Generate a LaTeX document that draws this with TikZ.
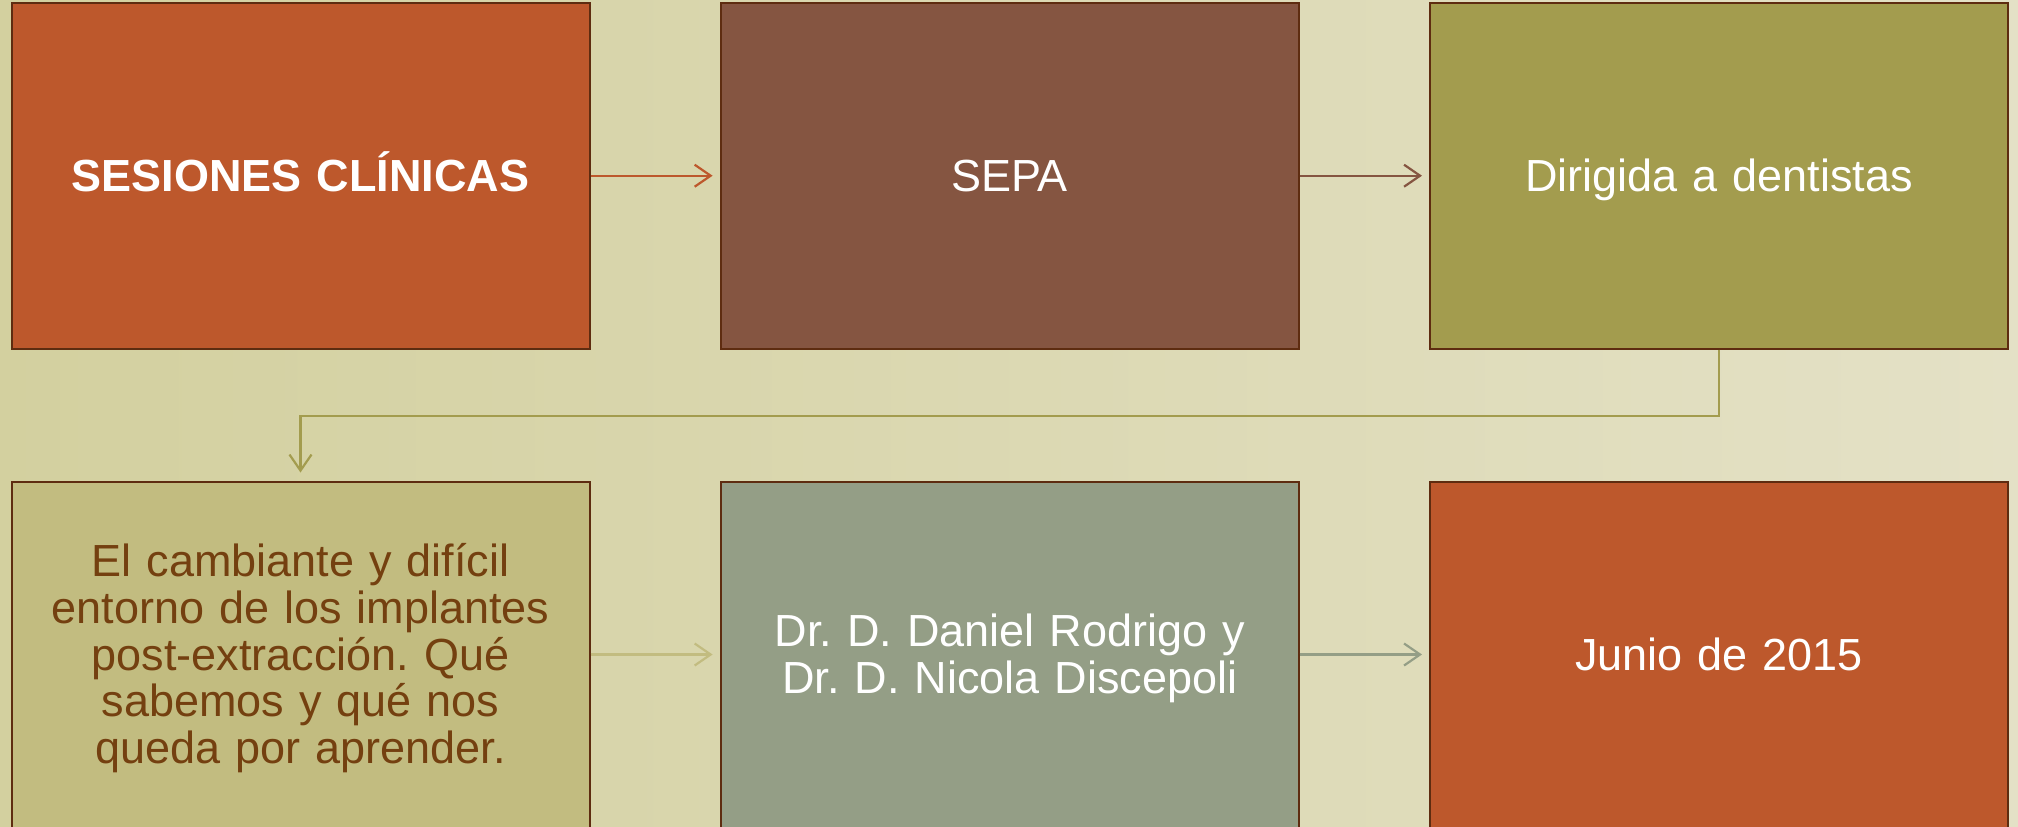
\documentclass[tikz,border=0pt]{standalone}
\usepackage{fontspec}
\setmainfont{Liberation Sans}
\usetikzlibrary{arrows.meta}
\definecolor{bgL}{HTML}{D3D09F}
\definecolor{bgR}{HTML}{E4E1C6}
\definecolor{cOrange}{HTML}{BD582C}
\definecolor{cBrown}{HTML}{855541}
\definecolor{cOlive}{HTML}{A39C4E}
\definecolor{cKhaki}{HTML}{C2BC80}
\definecolor{cSage}{HTML}{949E86}
\definecolor{cEdge}{HTML}{5E2C10}
\definecolor{cText}{HTML}{744010}
\newcommand\tstrut{\rule{0pt}{0.905em}}
\newcommand\bstrut{\rule[-0.212em]{0pt}{0.212em}}
\tikzset{
  box/.style={draw=cEdge, line width=1pt, minimum width=289pt, minimum height=173pt,
    inner sep=0pt, text width=260pt, align=center, text=white,
    font=\fontsize{22.5}{23.3}\selectfont\frenchspacing},
  arr/.style={line width=1.1pt, -{Straight Barb[length=8pt,width=11pt,line width=1.1pt]}, shorten >=3.5pt}
}
\begin{document}
\begin{tikzpicture}[x=0.5pt,y=-0.5pt]
\useasboundingbox (0,0) rectangle (2018,826);
\clip (0,0) rectangle (2018,826);
\shade[left color=bgL, right color=bgR] (0,0) rectangle (2018,826);
\node[box, fill=cOrange, font=\fontsize{22.5}{23.3}\selectfont\bfseries] (b1) at (300.5,175.7) {\tstrut SESIONES CLÍNICAS\bstrut};
\node[box, fill=cBrown] (b2) at (1009.6,175.7) {\tstrut SEPA\bstrut};
\node[box, fill=cOlive] (b3) at (1719,175.7) {\tstrut Dirigida a dentistas\bstrut};
\node[box, fill=cKhaki, text=cText, text width=250pt] (b4) at (300.5,654.5) {\tstrut El cambiante y difícil entorno de los implantes post-extracción. Qué sabemos y qué nos queda por aprender.\bstrut};
\node[box, fill=cSage] (b5) at (1009.6,654.5) {\tstrut Dr. D. Daniel Rodrigo y\\Dr. D. Nicola Discepoli\bstrut};
\node[box, fill=cOrange] (b6) at (1719,654.5) {\tstrut Junio de 2015\bstrut};
\draw[arr, cOrange] (b1.east) -- (b2.west);
\draw[arr, cBrown] (b2.east) -- (b3.west);
\draw[arr, cOlive, shorten >=4pt] (b3.south) -- ++(0,66) -| (b4.north);
\draw[arr, cKhaki] (b4.east) -- (b5.west);
\draw[arr, cSage] (b5.east) -- (b6.west);
\end{tikzpicture}
\end{document}
